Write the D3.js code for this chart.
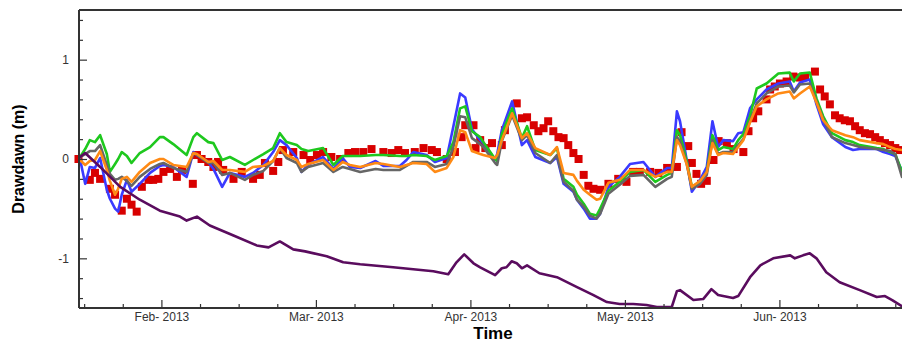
<!DOCTYPE html>
<html><head><meta charset="utf-8">
<script src="https://cdn.jsdelivr.net/npm/d3@7"></script>
<style>body{margin:0;background:#fff}svg{display:block}</style>
</head><body><svg id="c" width="902" height="347"></svg>
<script>
// ---- Data (x = day of year 2013) ----
const xTickDays = [31, 61, 91, 121, 151];
const xTickLabels = ["Feb- 2013", "Mar- 2013", "Apr- 2013", "May- 2013", "Jun- 2013"];
const xMinorDays = [16, 23.5, 38.5, 46, 53.5, 68.5, 76, 83.5, 98.5, 106, 113.5, 128.5, 136, 143.5, 158.5, 166, 173.5];
const yTickValues = [-1, 0, 1];
const yTickLabels = ["-1", "0", "1"];
const yMinorValues = [-1.4, -1.2, -0.8, -0.6, -0.4, -0.2, 0.2, 0.4, 0.6, 0.8, 1.2, 1.4];

const modelDays = [15.2,16.2,17.1,18.1,19.1,20.4,21.0,22.0,22.6,23.3,
 24.3,25.2,26.8,28.8,30.7,31.4,33.3,35.9,37.2,37.9,
 40.1,41.1,42.8,44.3,47.2,48.8,50.8,52.7,54.0,55.3,
 57.3,58.2,59.5,62.4,64.4,66.2,67.6,69.6,72.6,74.1,
 77.3,78.6,79.9,82.5,84.1,86.4,87.7,89.0,90.0,91.3,
 92.9,93.5,95.8,96.2,97.1,99.1,101.0,102.0,103.6,106.5,
 107.8,109.1,111.0,111.7,113.0,114.2,115.5,116.2,117.8,120.0,
 122.0,124.6,126.9,129.2,130.1,131.1,131.7,133.0,134.0,135.6,
 136.9,138.0,139.1,140.1,142.0,143.0,144.0,145.3,146.6,148.5,
 150.8,153.0,153.8,155.0,156.9,158.2,159.5,161.2,163.8,165.3,
 166.6,169.9,171.2,172.5,173.5,174.8];

const greenVals = [0.02,0.10,0.19,0.17,0.24,0.05,-0.13,-0.05,0.00,0.07,
 0.03,-0.04,0.06,0.12,0.22,0.22,0.15,0.04,0.22,0.26,
 0.17,0.16,-0.01,0.02,-0.06,-0.01,0.05,0.11,0.26,0.17,
 0.14,0.10,0.08,0.11,-0.06,0.03,0.03,0.03,0.04,0.04,
 0.03,0.03,0.04,0.03,-0.01,0.03,0.17,0.51,0.53,0.28,
 0.22,0.17,0.00,-0.02,0.25,0.51,0.21,0.33,0.09,0.04,
 0.11,-0.20,-0.28,-0.36,-0.45,-0.55,-0.57,-0.50,-0.32,-0.23,
 -0.13,-0.11,-0.23,-0.16,-0.14,0.29,0.24,-0.02,-0.28,-0.23,
 -0.13,0.24,0.09,0.12,0.10,0.19,0.25,0.43,0.71,0.76,
 0.86,0.87,0.78,0.86,0.87,0.61,0.43,0.26,0.19,0.17,
 0.14,0.11,0.10,0.07,0.05,-0.13];

const blueVals = [0.00,-0.25,-0.08,-0.09,0.01,-0.31,-0.40,-0.50,-0.53,-0.36,
 -0.21,-0.33,-0.25,-0.14,-0.07,-0.06,-0.08,-0.18,0.07,0.04,
 -0.03,-0.10,-0.28,-0.14,-0.18,-0.14,-0.06,0.07,0.19,0.14,
 0.01,-0.13,-0.06,0.02,-0.10,0.01,-0.08,-0.09,-0.02,-0.07,
 -0.07,-0.01,0.07,0.04,-0.03,0.01,0.33,0.66,0.62,0.30,
 0.19,0.16,-0.01,0.05,0.29,0.58,0.14,0.19,0.02,-0.04,
 0.02,-0.25,-0.33,-0.41,-0.50,-0.60,-0.60,-0.55,-0.28,-0.18,
 -0.05,-0.03,-0.18,-0.09,-0.09,0.48,0.38,-0.01,-0.33,-0.21,
 -0.08,0.38,0.12,0.19,0.18,0.26,0.27,0.51,0.60,0.70,
 0.76,0.78,0.68,0.77,0.80,0.55,0.35,0.22,0.12,0.09,
 0.10,0.10,0.07,0.05,0.03,-0.12];

const grayVals = [0.02,0.05,0.08,0.08,0.14,-0.06,-0.15,-0.21,-0.20,-0.18,
 -0.22,-0.27,-0.18,-0.10,-0.05,-0.04,-0.09,-0.13,0.06,0.04,
 -0.04,-0.04,-0.16,-0.14,-0.21,-0.16,-0.12,-0.02,0.11,0.01,
 -0.04,-0.13,-0.08,-0.04,-0.13,-0.08,-0.10,-0.13,-0.10,-0.11,
 -0.11,-0.07,-0.03,-0.03,-0.08,-0.05,0.12,0.43,0.42,0.21,
 0.15,0.12,-0.04,-0.06,0.18,0.44,0.19,0.24,0.06,-0.04,
 0.04,-0.23,-0.32,-0.41,-0.48,-0.57,-0.60,-0.55,-0.35,-0.26,
 -0.17,-0.16,-0.28,-0.20,-0.18,0.22,0.18,-0.05,-0.30,-0.25,
 -0.16,0.19,0.05,0.07,0.07,0.14,0.20,0.38,0.56,0.66,
 0.73,0.74,0.67,0.75,0.76,0.58,0.40,0.22,0.16,0.14,
 0.12,0.10,0.09,0.08,0.05,-0.18];

const orangeVals = [-0.01,-0.06,-0.02,-0.01,0.08,-0.11,-0.22,-0.36,-0.30,-0.20,
 -0.18,-0.23,-0.13,-0.04,0.00,0.00,-0.06,-0.08,0.06,0.05,
 -0.03,-0.02,-0.11,-0.11,-0.13,-0.08,-0.07,-0.02,0.11,0.04,
 -0.01,-0.08,-0.05,-0.01,-0.11,-0.03,-0.06,-0.08,-0.04,-0.05,
 -0.08,-0.06,-0.04,-0.05,-0.13,-0.09,0.02,0.29,0.27,0.08,
 0.05,0.04,0.01,0.04,0.19,0.46,0.21,0.26,0.11,0.04,
 0.12,-0.14,-0.16,-0.22,-0.31,-0.36,-0.41,-0.40,-0.24,-0.21,
 -0.11,-0.11,-0.18,-0.13,-0.13,0.19,0.14,-0.05,-0.28,-0.22,
 -0.13,0.16,0.04,0.06,0.05,0.12,0.19,0.37,0.53,0.60,
 0.66,0.68,0.61,0.66,0.73,0.57,0.39,0.29,0.24,0.22,
 0.19,0.16,0.15,0.12,0.10,0.09];

const purpleDays = [15.2,16.2,19.1,23.0,26.8,30.7,34.6,35.9,37.9,40.4,45.0,49.5,51.8,54.0,56.6,58.9,63.1,66.3,69.6,76.0,79.9,83.8,86.7,88.3,89.8,91.6,92.9,95.8,97.1,98.0,99.0,100.0,101.0,102.0,104.4,107.8,111.7,114.9,117.5,120.0,122.6,125.2,127.2,130.1,131.1,131.7,134.3,136.2,137.8,139.1,142.0,143.0,145.3,147.3,149.8,153.1,154.0,155.6,156.9,158.2,160.1,162.7,166.6,169.9,171.5,172.9,174.7];
const purpleVals = [0.02,0.06,-0.08,-0.28,-0.41,-0.52,-0.58,-0.62,-0.58,-0.67,-0.77,-0.87,-0.89,-0.83,-0.91,-0.93,-0.98,-1.04,-1.06,-1.09,-1.11,-1.13,-1.16,-1.04,-0.96,-1.05,-1.09,-1.17,-1.10,-1.09,-1.03,-1.05,-1.10,-1.07,-1.15,-1.19,-1.29,-1.37,-1.44,-1.46,-1.46,-1.47,-1.49,-1.49,-1.33,-1.32,-1.42,-1.41,-1.31,-1.37,-1.40,-1.38,-1.19,-1.07,-1.00,-0.97,-1.00,-0.97,-0.95,-1.00,-1.14,-1.24,-1.32,-1.39,-1.38,-1.42,-1.48];

const obsDays = [14.9,17.1,18.1,19.1,21.0,22.0,23.3,24.3,25.2,26.2,
 27.2,28.5,29.4,30.4,31.4,32.7,34.0,35.0,37.1,37.9,
 38.8,40.1,41.1,42.0,43.0,45.0,46.6,48.8,50.1,51.1,
 52.7,53.7,54.6,56.6,58.6,59.9,61.2,62.4,64.0,65.7,
 67.3,68.6,70.2,71.8,74.1,75.7,77.0,78.3,80.2,81.9,
 83.5,84.5,86.4,88.0,89.3,90.0,91.6,92.0,92.9,93.9,
 95.2,97.1,97.7,100.0,101.0,102.0,103.3,104.2,105.2,106.1,
 107.1,108.1,109.1,110.0,111.0,112.0,113.0,113.9,114.9,116.2,
 117.8,119.7,121.3,122.6,123.9,125.9,127.5,129.2,131.1,132.0,
 133.3,134.0,134.9,135.8,136.9,138.2,139.2,140.8,142.1,144.0,
 145.0,145.9,146.9,148.5,149.2,150.1,151.1,152.4,153.7,155.0,
 156.0,157.9,158.9,159.8,160.8,161.8,162.7,163.7,164.7,165.7,
 166.6,167.6,168.6,169.6,170.5,171.5,172.5,173.5,174.4];
const obsVals = [0.00,-0.21,-0.14,-0.20,-0.30,-0.36,-0.52,-0.40,-0.46,-0.53,
 -0.28,-0.21,-0.21,-0.20,-0.13,-0.10,-0.18,-0.11,-0.25,0.04,
 0.00,-0.03,-0.08,-0.03,-0.11,-0.20,-0.13,-0.20,-0.16,-0.04,
 -0.12,-0.03,0.09,0.07,0.04,-0.01,0.04,0.07,0.02,0.00,
 0.06,0.07,0.07,0.10,0.07,0.06,0.09,0.06,0.07,0.11,
 0.09,0.07,0.00,0.07,0.22,0.34,0.34,0.11,0.19,0.11,
 0.16,0.14,0.29,0.56,0.41,0.42,0.34,0.28,0.31,0.38,
 0.28,0.22,0.21,0.14,0.06,0.00,-0.16,-0.27,-0.30,-0.31,
 -0.25,-0.20,-0.23,-0.13,-0.13,-0.13,-0.14,-0.09,-0.08,0.27,
 0.13,-0.04,-0.15,-0.25,-0.22,-0.01,0.18,0.16,0.10,0.07,
 0.28,0.41,0.48,0.60,0.70,0.73,0.76,0.78,0.83,0.82,
 0.83,0.88,0.70,0.63,0.55,0.44,0.41,0.39,0.38,0.33,
 0.29,0.26,0.25,0.22,0.19,0.16,0.14,0.11,0.09];

// ---- Chart ----
const svg = d3.select('#c');
const font = "'Liberation Sans', Arial, Helvetica, sans-serif";
const L = 79, R = 903, T = 10, B = 308;
const x = d3.scaleLinear().domain([15, 175]).range([L, R]);
const y = d3.scaleLinear().domain([-1.5, 1.5]).range([B, T]);

svg.append('defs').append('clipPath').attr('id', 'clip')
  .append('rect').attr('x', L).attr('y', T).attr('width', R - L).attr('height', B - T);

// observed squares
svg.append('g').selectAll('rect').data(obsDays).join('rect')
  .attr('x', d => x(d) - 4).attr('y', (d, i) => y(obsVals[i]) - 4)
  .attr('width', 8).attr('height', 8).attr('fill', '#d80000');

const line = d3.line().x(d => x(d[0])).y(d => y(d[1]));
const series = [
  { days: modelDays, vals: blueVals, color: '#3a3aff' },
  { days: modelDays, vals: greenVals, color: '#1ec81e' },
  { days: modelDays, vals: grayVals, color: '#666666' },
  { days: modelDays, vals: orangeVals, color: '#ff8a14' },
  { days: purpleDays, vals: purpleVals, color: '#5a0c5e' }
];
const gl = svg.append('g').attr('clip-path', 'url(#clip)');
series.forEach(s => {
  gl.append('path').datum(s.days.map((d, i) => [d, s.vals[i]]))
    .attr('d', line).attr('fill', 'none').attr('stroke', s.color)
    .attr('stroke-width', 2.6).attr('stroke-linejoin', 'round').attr('stroke-linecap', 'round');
});

// axes
const axisColor = '#333';
function styleAxis(g) {
  g.select('.domain').remove();
  g.selectAll('line').attr('stroke', axisColor).attr('stroke-width', 1.2);
  g.selectAll('text').attr('fill', '#333').style('font-family', font).style('font-size', '12px');
}
svg.append('g').attr('transform', `translate(0,${B})`)
  .call(d3.axisBottom(x).tickValues(xMinorDays).tickFormat('').tickSizeInner(-4).tickSizeOuter(0))
  .call(styleAxis);
svg.append('g').attr('transform', `translate(0,${B})`)
  .call(d3.axisBottom(x).tickValues(xTickDays).tickFormat((d, i) => xTickLabels[i]).tickSizeInner(-8).tickSizeOuter(0).tickPadding(4))
  .call(styleAxis);
svg.append('g').attr('transform', `translate(${L},0)`)
  .call(d3.axisLeft(y).tickValues(yMinorValues).tickFormat('').tickSizeInner(-4).tickSizeOuter(0))
  .call(styleAxis);
svg.append('g').attr('transform', `translate(${L},0)`)
  .call(d3.axisLeft(y).tickValues(yTickValues).tickFormat((d, i) => yTickLabels[i]).tickSizeInner(-8).tickSizeOuter(0).tickPadding(10))
  .call(styleAxis);

// frame
const frame = svg.append('g').attr('stroke', axisColor).attr('stroke-width', 2).attr('fill', 'none');
frame.append('line').attr('x1', L).attr('x2', L).attr('y1', T).attr('y2', B);
frame.append('line').attr('x1', L).attr('x2', R).attr('y1', B).attr('y2', B);
frame.append('line').attr('x1', L).attr('x2', R).attr('y1', T).attr('y2', T);

// titles
svg.append('text').attr('x', 493).attr('y', 339).attr('text-anchor', 'middle')
  .style('font-family', font).style('font-size', '17px').style('font-weight', 'bold').text('Time');
svg.append('text').attr('transform', 'translate(24,159) rotate(-90)').attr('text-anchor', 'middle')
  .style('font-family', font).style('font-size', '16px').style('font-weight', 'bold').text('Drawdawn (m)');
</script></body></html>
